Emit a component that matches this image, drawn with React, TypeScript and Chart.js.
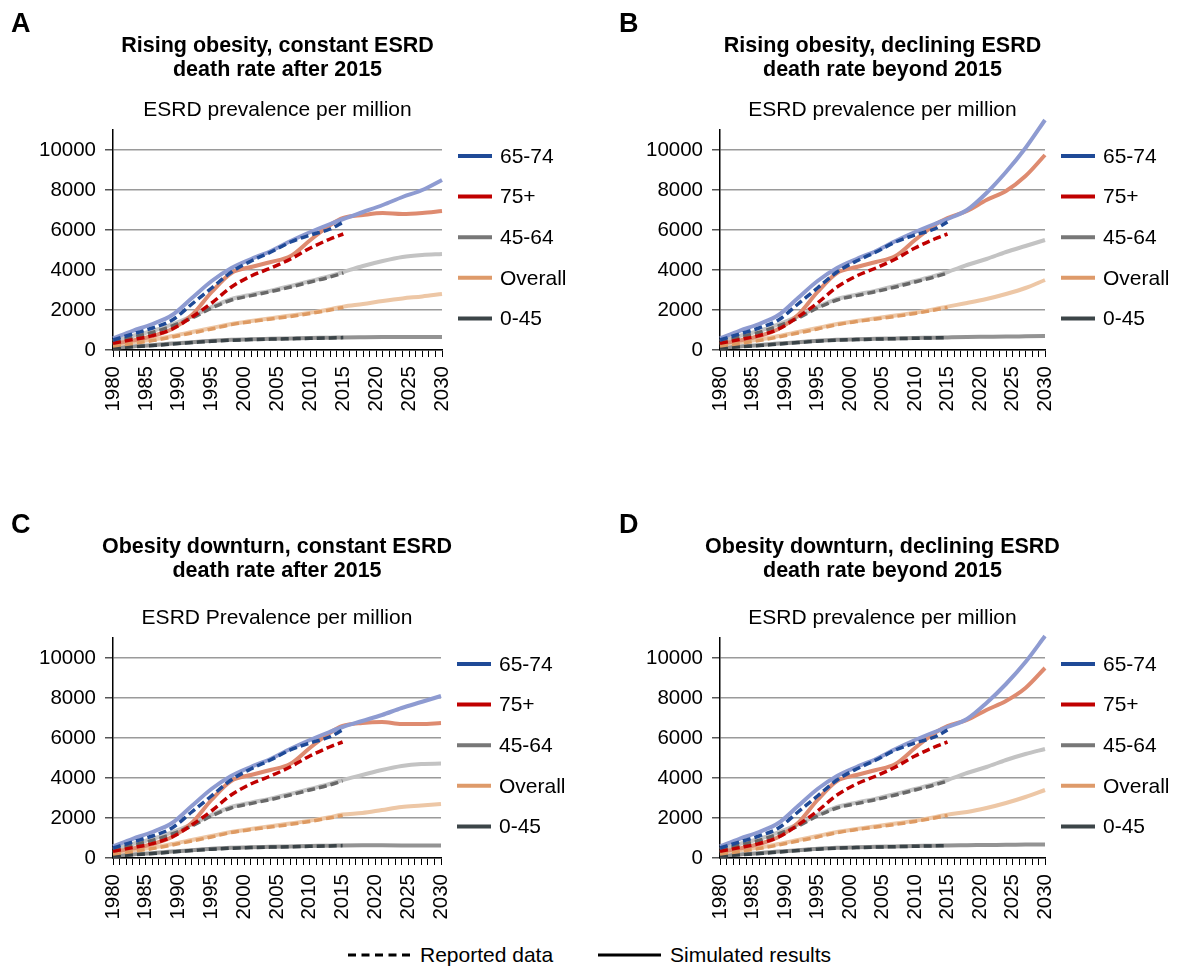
import React, { useEffect, useRef } from "react";
import { Chart, registerables } from "chart.js";

Chart.register(...registerables);

const FONT = "'Liberation Sans', Arial, Helvetica, sans-serif";

// ---------- data ----------
const HIST_YEARS = [1980, 1983, 1986, 1989, 1992, 1995, 1998, 2001, 2004, 2007, 2010, 2013, 2015];
const PROJ_YEARS = [2018, 2021, 2024, 2027, 2030];
const Y_TICKS = [0, 2000, 4000, 6000, 8000, 10000];
const X_FIRST = 1980;
const X_LAST = 2030;

const GROUPS = ["65-74", "75+", "45-64", "Overall", "0-45"];
const LEGEND_COLORS = ["#1f4a97", "#c00000", "#777777", "#de9a6a", "#3c4548"];
const REPORTED_COLORS = ["#1f4a97", "#c00000", "#686868", "#de9a62", "#3a4347"];
const SIM_COLORS = ["#8e9bd1", "#de8b70", "#c3c3c3", "#edc7a6", "#939393"];

// Reported data (dashed), 1980-2015
const REP_65_74 = [500, 800, 1100, 1500, 2300, 3100, 3900, 4450, 4900, 5400, 5750, 6050, 6400];
const REP_75P = [330, 520, 720, 1050, 1650, 2350, 3150, 3700, 4100, 4550, 5100, 5550, 5800];
const REP_45_64 = [380, 640, 880, 1200, 1600, 2100, 2500, 2720, 2920, 3150, 3400, 3650, 3850];
const REP_OVERALL = [200, 330, 470, 650, 850, 1050, 1270, 1420, 1550, 1680, 1830, 2000, 2130];
const REP_0_45 = [90, 160, 220, 300, 370, 440, 490, 520, 545, 565, 585, 605, 620];

// Simulated results, 1980-2015 (shared by all scenarios)
const SIM_65_74 = [580, 960, 1300, 1750, 2600, 3450, 4100, 4550, 4950, 5450, 5900, 6300, 6550];
const SIM_75P = [300, 480, 700, 1050, 1750, 2900, 3850, 4150, 4400, 4700, 5500, 6250, 6600];
const SIM_45_64 = [430, 700, 950, 1280, 1680, 2150, 2550, 2770, 2970, 3200, 3450, 3700, 3900];
const SIM_OVERALL = [250, 380, 520, 700, 900, 1100, 1300, 1450, 1590, 1720, 1870, 2040, 2170];
const SIM_0_45 = [110, 180, 240, 320, 390, 460, 510, 540, 560, 580, 600, 615, 630];

// Projections 2018-2030 per scenario
const A_65_74 = [6900, 7250, 7650, 8000, 8500];
const A_75P = [6750, 6850, 6800, 6850, 6950];
const A_45_64 = [4200, 4450, 4650, 4750, 4800];
const A_OVERALL = [2300, 2450, 2580, 2680, 2800];
const A_0_45 = [640, 645, 645, 645, 650];

const B_65_74 = [7000, 7850, 8900, 10100, 11500];
const B_75P = [6950, 7500, 7950, 8700, 9750];
const B_45_64 = [4250, 4550, 4900, 5200, 5500];
const B_OVERALL = [2350, 2550, 2800, 3100, 3500];
const B_0_45 = [650, 660, 670, 685, 700];

const C_65_74 = [6850, 7150, 7500, 7800, 8100];
const C_75P = [6750, 6800, 6700, 6700, 6750];
const C_45_64 = [4150, 4400, 4600, 4700, 4720];
const C_OVERALL = [2250, 2400, 2550, 2620, 2700];
const C_0_45 = [640, 635, 630, 625, 620];

const D_65_74 = [6950, 7750, 8700, 9800, 11100];
const D_75P = [6900, 7400, 7850, 8500, 9500];
const D_45_64 = [4250, 4550, 4900, 5200, 5450];
const D_OVERALL = [2300, 2500, 2750, 3050, 3400];
const D_0_45 = [640, 650, 660, 670, 680];

const REPORTED = [REP_65_74, REP_75P, REP_45_64, REP_OVERALL, REP_0_45];
const SIM_HIST = [SIM_65_74, SIM_75P, SIM_45_64, SIM_OVERALL, SIM_0_45];

type Panel = {
  letter: string;
  title: string[];
  subtitle: string;
  proj: number[][];
  left: number;
  top: number;
  width: number;
  height: number;
  areaLeft: number;
  areaRight: number;
  areaTop: number;
  areaBottom: number;
  letterX: number;
  letterY: number;
  titleY: number;
  subtitleY: number;
};

const PANELS: Panel[] = [
  {
    letter: "A",
    title: ["Rising obesity, constant ESRD", "death rate after 2015"],
    subtitle: "ESRD prevalence per million",
    proj: [A_65_74, A_75P, A_45_64, A_OVERALL, A_0_45],
    left: 0, top: 0, width: 600, height: 440,
    areaLeft: 113, areaRight: 442, areaTop: 130, areaBottom: 350,
    letterX: 11, letterY: 32, titleY: 46, subtitleY: 110,
  },
  {
    letter: "B",
    title: ["Rising obesity, declining ESRD", "death rate beyond 2015"],
    subtitle: "ESRD prevalence per million",
    proj: [B_65_74, B_75P, B_45_64, B_OVERALL, B_0_45],
    left: 600, top: 0, width: 578, height: 440,
    areaLeft: 120, areaRight: 445, areaTop: 130, areaBottom: 350,
    letterX: 19, letterY: 32, titleY: 46, subtitleY: 110,
  },
  {
    letter: "C",
    title: ["Obesity downturn, constant ESRD", "death rate after 2015"],
    subtitle: "ESRD Prevalence per million",
    proj: [C_65_74, C_75P, C_45_64, C_OVERALL, C_0_45],
    left: 0, top: 500, width: 600, height: 440,
    areaLeft: 113, areaRight: 441, areaTop: 138, areaBottom: 358,
    letterX: 11, letterY: 33, titleY: 47, subtitleY: 118,
  },
  {
    letter: "D",
    title: ["Obesity downturn, declining ESRD", "death rate beyond 2015"],
    subtitle: "ESRD prevalence per million",
    proj: [D_65_74, D_75P, D_45_64, D_OVERALL, D_0_45],
    left: 600, top: 500, width: 578, height: 440,
    areaLeft: 120, areaRight: 445, areaTop: 138, areaBottom: 358,
    letterX: 19, letterY: 33, titleY: 47, subtitleY: 118,
  },
];

function makeDecor(p: Panel) {
  return {
    id: "panelDecor" + p.letter,
    afterDraw(chart: any) {
      const { ctx, chartArea } = chart;
      const cx = (chartArea.left + chartArea.right) / 2;
      ctx.save();
      ctx.fillStyle = "#000";
      ctx.textBaseline = "alphabetic";
      ctx.textAlign = "left";
      ctx.font = `bold 27px ${FONT}`;
      ctx.fillText(p.letter, p.letterX, p.letterY);

      ctx.textBaseline = "middle";
      ctx.textAlign = "center";
      ctx.font = `bold 21.5px ${FONT}`;
      p.title.forEach((t, i) => ctx.fillText(t, cx, p.titleY + i * 24));
      ctx.font = `21px ${FONT}`;
      ctx.fillText(p.subtitle, cx, p.subtitleY);

      ctx.textAlign = "left";
      ctx.font = `21px ${FONT}`;
      GROUPS.forEach((g, i) => {
        const y = chartArea.top + 26 + i * 40.6;
        ctx.strokeStyle = LEGEND_COLORS[i];
        ctx.lineWidth = 4;
        ctx.setLineDash([]);
        ctx.beginPath();
        ctx.moveTo(chartArea.right + 16, y);
        ctx.lineTo(chartArea.right + 50, y);
        ctx.stroke();
        ctx.fillStyle = "#000";
        ctx.fillText(g, chartArea.right + 58, y + 1);
      });
      ctx.restore();
    },
  };
}

function PanelChart({ p }: { p: Panel }) {
  const ref = useRef<HTMLCanvasElement | null>(null);
  useEffect(() => {
    if (!ref.current) return;
    const simYears = [...HIST_YEARS, ...PROJ_YEARS];
    const datasets: any[] = [];
    GROUPS.forEach((g, i) => {
      const simVals = [...SIM_HIST[i], ...p.proj[i]];
      datasets.push({
        label: g + " reported",
        data: HIST_YEARS.map((x, k) => ({ x, y: REPORTED[i][k] })),
        borderColor: REPORTED_COLORS[i],
        borderWidth: 3.5,
        borderDash: [8, 4],
        pointRadius: 0,
        cubicInterpolationMode: "monotone",
        fill: false,
        order: 1,
        clip: false,
      });
      datasets.push({
        label: g + " simulated",
        data: simYears.map((x, k) => ({ x, y: simVals[k] })),
        borderColor: SIM_COLORS[i],
        borderWidth: 4,
        pointRadius: 0,
        cubicInterpolationMode: "monotone",
        fill: false,
        order: 2,
        clip: false,
      });
    });

    const chart = new Chart(ref.current, {
      type: "line",
      data: { datasets },
      plugins: [makeDecor(p)],
      options: {
        animation: false,
        responsive: false,
        devicePixelRatio: 1,
        events: [],
        layout: {
          padding: { left: 0, top: p.areaTop, right: p.width - p.areaRight, bottom: 0 },
        },
        plugins: {
          legend: { display: false },
          title: { display: false },
          tooltip: { enabled: false },
        },
        scales: {
          x: {
            type: "linear",
            min: X_FIRST,
            max: X_LAST,
            afterBuildTicks: (s: any) => {
              const t = [];
              for (let v = X_FIRST; v <= X_LAST; v++) t.push({ value: v });
              s.ticks = t;
            },
            afterFit: (s: any) => {
              s.height = p.height - p.areaBottom;
            },
            ticks: {
              autoSkip: false,
              minRotation: 90,
              maxRotation: 90,
              padding: 9,
              color: "#000",
              font: { family: FONT, size: 20.5 },
              callback: (v: any) => (Number(v) % 5 === 0 ? String(v) : ""),
            },
            grid: {
              display: true,
              drawOnChartArea: false,
              drawTicks: true,
              tickLength: 7,
              color: "#000",
              tickColor: "#000",
              lineWidth: 1,
            },
            border: { display: true, color: "#000", width: 1.5 },
          },
          y: {
            type: "linear",
            min: 0,
            max: 11000,
            afterBuildTicks: (s: any) => {
              s.ticks = Y_TICKS.map((v) => ({ value: v }));
            },
            afterFit: (s: any) => {
              s.width = p.areaLeft;
            },
            ticks: {
              padding: 9,
              color: "#000",
              font: { family: FONT, size: 20.5 },
              callback: (v: any) => String(v),
            },
            grid: {
              display: true,
              drawOnChartArea: true,
              drawTicks: true,
              tickLength: 8,
              color: "#9a9a9a",
              tickColor: "#555",
              lineWidth: 1.5,
            },
            border: { display: true, color: "#000", width: 1.5 },
          },
        },
      } as any,
    });
    return () => chart.destroy();
  }, [p]);

  return (
    <canvas
      ref={ref}
      width={p.width}
      height={p.height}
      style={{ position: "absolute", left: p.left, top: p.top, width: p.width, height: p.height }}
    />
  );
}

export default function App() {
  return (
    <div
      style={{
        position: "absolute",
        left: 0,
        top: 0,
        width: 1178,
        height: 966,
        background: "#fff",
        fontFamily: FONT,
        overflow: "hidden",
      }}
    >
      {PANELS.map((p) => (
        <PanelChart key={p.letter} p={p} />
      ))}
      <svg style={{ position: "absolute", left: 348, top: 952 }} width={64} height={6}>
        <line x1={0} y1={3} x2={64} y2={3} stroke="#000" strokeWidth={3} strokeDasharray="8 5.5" />
      </svg>
      <div style={{ position: "absolute", left: 420, top: 942, fontSize: 21, lineHeight: "26px", color: "#000", whiteSpace: "nowrap" }}>
        Reported data
      </div>
      <svg style={{ position: "absolute", left: 598, top: 952 }} width={63} height={6}>
        <line x1={0} y1={3} x2={63} y2={3} stroke="#000" strokeWidth={3} />
      </svg>
      <div style={{ position: "absolute", left: 670, top: 942, fontSize: 21, lineHeight: "26px", color: "#000", whiteSpace: "nowrap" }}>
        Simulated results
      </div>
    </div>
  );
}
